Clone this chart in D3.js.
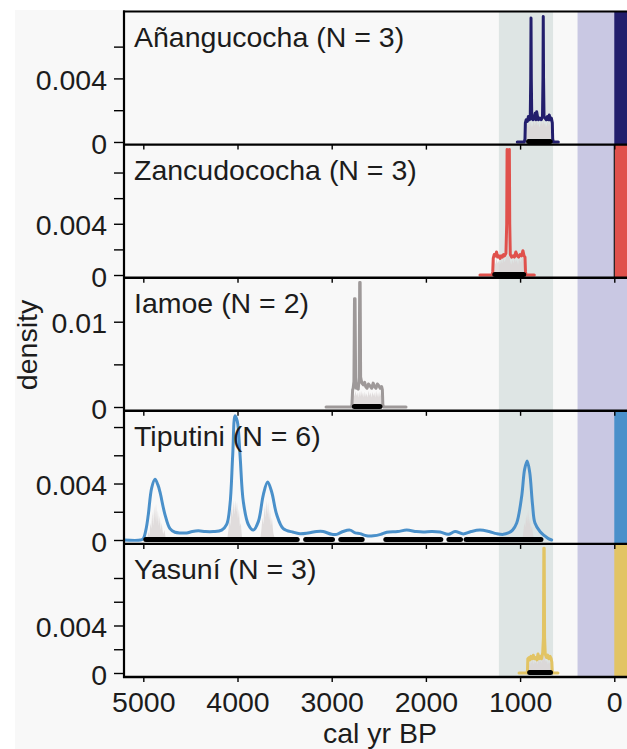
<!DOCTYPE html>
<html>
<head>
<meta charset="utf-8">
<script src="https://cdn.jsdelivr.net/npm/d3@7"></script>
<style>
  body { margin: 0; background: #ffffff; }
  svg text { font-family: "Liberation Sans", Arial, Helvetica, sans-serif; fill: #1c1c1c; }
</style>
</head>
<body>
<svg id="chart" width="627" height="749"></svg>
<script>
// ---- Sites ----
const sites = ["Añangucocha", "Zancudococha", "Iamoe", "Tiputini", "Yasuní"];
const dateCounts = [3, 3, 2, 6, 3];
const siteColors = ["#221e6c", "#e0514c", "#9e9999", "#4a90ca", "#e2c464"];
// whether the recent-period bar (0 cal yr BP onwards) is shown for the site
const recentBar = [true, true, false, true, true];

// ---- Summed density curves: [cal yr BP, density] ----
const anangucochaDensity = [[1030,0],[955,0],[948,0.0002],[944,0.0012],[935,0.0014],[922,0.0013],[912,0.0016],[900,0.0014],[892,0.0016],[887,0.0040],[884,0.0078],[881,0.0040],[876,0.0015],[865,0.0014],[852,0.0015],[840,0.0018],[832,0.0014],[824,0.0019],[815,0.0016],[805,0.0014],[790,0.0015],[775,0.0014],[762,0.0016],[757,0.0040],[754,0.0079],[751,0.0040],[746,0.0016],[735,0.0015],[722,0.0014],[710,0.0016],[698,0.0014],[690,0.0017],[680,0.0014],[668,0.0015],[658,0.0012],[654,0.0002],[648,0],[594,0]];
const zancudocochaDensity = [[1426,0],[1295,0],[1290,0.0003],[1285,0.0013],[1275,0.0016],[1262,0.0015],[1250,0.0018],[1238,0.0014],[1225,0.0015],[1212,0.0013],[1200,0.0015],[1188,0.0014],[1175,0.0016],[1165,0.0015],[1150,0.0017],[1142,0.0040],[1138,0.0098],[1126,0.0097],[1114,0.0098],[1110,0.0040],[1104,0.0016],[1090,0.0014],[1075,0.0015],[1060,0.0014],[1045,0.0018],[1030,0.0015],[1015,0.0014],[1000,0.0016],[985,0.0015],[970,0.0019],[958,0.0015],[948,0.0014],[943,0.0003],[938,0],[849,0]];
const iamoeDensity = [[3060,0],[2790,0],[2785,0.0003],[2778,0.0020],[2772,0.0022],[2764,0.0030],[2758,0.0127],[2752,0.0127],[2746,0.0030],[2740,0.0022],[2730,0.0023],[2718,0.0021],[2708,0.0035],[2703,0.0146],[2698,0.0146],[2693,0.0035],[2680,0.0028],[2665,0.0026],[2650,0.0029],[2640,0.0024],[2625,0.0022],[2610,0.0027],[2595,0.0025],[2575,0.0022],[2560,0.0028],[2545,0.0024],[2530,0.0022],[2515,0.0027],[2500,0.0025],[2485,0.0022],[2470,0.0024],[2462,0.0020],[2457,0.0003],[2450,0],[2211,0]];
const tiputiniDensity = [[5205,0],[5030,0],[5000,0.0001],[4970,0.0008],[4947,0.0018],[4911,0.0037],[4876,0.0043],[4845,0.0039],[4823,0.0034],[4770,0.0018],[4717,0.0008],[4664,0.00055],[4600,0.0005],[4540,0.0005],[4480,0.0006],[4416,0.00065],[4340,0.0006],[4257,0.0006],[4168,0.0007],[4115,0.0011],[4080,0.0025],[4051,0.0060],[4026,0.0088],[4002,0.0084],[3973,0.0060],[3938,0.0027],[3885,0.0011],[3832,0.0007],[3779,0.0013],[3726,0.0032],[3680,0.0041],[3637,0.0034],[3584,0.0018],[3514,0.0008],[3408,0.00055],[3337,0.00045],[3250,0.0005],[3160,0.0006],[3090,0.0006],[3000,0.0004],[2947,0.0004],[2880,0.0006],[2806,0.0007],[2750,0.0005],[2700,0.00045],[2630,0.0003],[2558,0.0003],[2480,0.0004],[2416,0.00055],[2300,0.0006],[2204,0.0007],[2100,0.0006],[2028,0.00057],[1940,0.0006],[1850,0.00057],[1762,0.0004],[1691,0.0006],[1603,0.00043],[1520,0.0006],[1426,0.0007],[1330,0.0006],[1248,0.00045],[1178,0.0004],[1125,0.0005],[1080,0.0007],[1036,0.0012],[983,0.0031],[952,0.0050],[925,0.0056],[898,0.0048],[868,0.0025],[842,0.0012],[789,0.0006],[740,0.0003],[700,0.0001],[665,0]];
const yasuniDensity = [[1011,0],[925,0],[921,0.0003],[918,0.0012],[905,0.0013],[895,0.0011],[885,0.0014],[872,0.0012],[860,0.0015],[848,0.0012],[835,0.0013],[822,0.0011],[810,0.0016],[798,0.0012],[785,0.0014],[772,0.0012],[760,0.0017],[752,0.0030],[748,0.0105],[744,0.0105],[740,0.0030],[733,0.0016],[720,0.0013],[708,0.0015],[695,0.0012],[682,0.0014],[670,0.0012],[663,0.0009],[659,0.0002],[655,0],[598,0]];

// ---- Individual calibrated date probabilities (grey) ----
const anangucochaDates = [[940,0],[935,0.0010],[925,0.0012],[915,0.0009],[905,0.0013],[895,0.0010],[885,0.0013],[875,0.0009],[865,0.0011],[855,0.0014],[845,0.0010],[835,0.0012],[825,0.0016],[815,0.0010],[805,0.0012],[795,0.0009],[785,0.0011],[775,0.0013],[765,0.0010],[755,0.0014],[745,0.0011],[735,0.0012],[725,0.0009],[715,0.0011],[705,0.0014],[695,0.0010],[685,0.0012],[675,0.0009],[665,0.0011],[655,0.0008],[650,0]];
const zancudocochaDates = [[1292,0],[1285,0.0009],[1272,0.0012],[1262,0.0008],[1250,0.0013],[1238,0.0009],[1226,0.0011],[1214,0.0008],[1202,0.0012],[1190,0.0009],[1178,0.0013],[1166,0.0010],[1154,0.0012],[1142,0.0016],[1130,0.0014],[1118,0.0016],[1106,0.0011],[1094,0.0008],[1082,0.0012],[1070,0.0009],[1058,0.0013],[1046,0.0010],[1034,0.0012],[1022,0.0008],[1010,0.0013],[998,0.0010],[986,0.0012],[974,0.0014],[962,0.0010],[950,0.0011],[942,0]];
const iamoeDates = [[2785,0],[2778,0.0014],[2768,0.0018],[2758,0.0012],[2748,0.0019],[2738,0.0013],[2728,0.0017],[2718,0.0011],[2708,0.0018],[2698,0.0012],[2688,0.0019],[2678,0.0013],[2668,0.0017],[2658,0.0011],[2648,0.0018],[2638,0.0012],[2628,0.0016],[2618,0.0011],[2608,0.0019],[2598,0.0013],[2588,0.0017],[2578,0.0011],[2568,0.0018],[2558,0.0013],[2548,0.0017],[2538,0.0011],[2528,0.0019],[2518,0.0012],[2508,0.0017],[2498,0.0011],[2488,0.0018],[2478,0.0013],[2468,0.0016],[2460,0]];
const tiputiniDates = [[4960,0],[4945,0.0006],[4935,0.0003],[4925,0.0012],[4915,0.0008],[4905,0.0020],[4895,0.0010],[4885,0.0024],[4875,0.0014],[4865,0.0026],[4855,0.0012],[4845,0.0021],[4835,0.0010],[4825,0.0017],[4815,0.0007],[4805,0.0012],[4790,0.0004],[4775,0.0007],[4760,0],
  [4110,0],[4095,0.0008],[4085,0.0015],[4075,0.0010],[4065,0.0024],[4055,0.0016],[4045,0.0028],[4035,0.0018],[4025,0.0028],[4015,0.0020],[4005,0.0027],[3995,0.0015],[3985,0.0022],[3975,0.0010],[3965,0.0012],[3950,0],
  [3760,0],[3745,0.0008],[3735,0.0016],[3725,0.0011],[3715,0.0024],[3705,0.0016],[3695,0.0028],[3685,0.0018],[3675,0.0027],[3665,0.0014],[3655,0.0022],[3645,0.0010],[3635,0.0016],[3620,0.0005],[3600,0],
  [975,0],[965,0.0006],[955,0.0012],[945,0.0009],[935,0.0018],[925,0.0012],[915,0.0021],[905,0.0011],[895,0.0016],[885,0.0007],[875,0.0010],[860,0.0003],[850,0]];
const yasuniDates = [[922,0],[915,0.0007],[905,0.0010],[895,0.0006],[885,0.0011],[875,0.0008],[865,0.0012],[855,0.0007],[845,0.0010],[835,0.0008],[825,0.0011],[815,0.0007],[805,0.0012],[795,0.0009],[785,0.0011],[775,0.0008],[765,0.0013],[755,0.0016],[745,0.0018],[735,0.0012],[725,0.0009],[715,0.0011],[705,0.0007],[695,0.0010],[685,0.0008],[675,0.0009],[665,0.0006],[658,0]];

// ---- Highest-density ranges: [start, end] in cal yr BP ----
const anangucochaRanges = [[937, 654]];
const zancudocochaRanges = [[1295, 935]];
const iamoeRanges = [[2786, 2461]];
const tiputiniRanges = [[5000, 3340], [3303, 2965], [2930, 2650], [2452, 1815], [1782, 1606], [1600, 752]];
const yasuniRanges = [[925, 650]];

// ---- Shaded periods (cal yr BP) ----
const periodBands = [[1225, 650], [390, -135]];
const periodColors = ["#dee5e4", "#c9c8e3"];
const recentPeriod = [0, -135];

// ---- Axes ----
const yearDomain = [5205, -135];
const yearTicks = [5000, 4000, 3000, 2000, 1000, 0];
const densityDomains = [[-0.000165, 0.00821], [-0.00021, 0.01018], [-0.000445, 0.01516], [-0.000276, 0.00915], [-0.000337, 0.01087]];
const densityTicks = [[0, 0.002, 0.004, 0.006], [0, 0.002, 0.004, 0.006, 0.008], [0, 0.005, 0.01], [0, 0.002, 0.004, 0.006, 0.008], [0, 0.002, 0.004, 0.006, 0.008]];
const densityLabels = [[0, 0.004], [0, 0.004], [0, 0.01], [0, 0.004], [0, 0.004]];

const densityCurves = [anangucochaDensity, zancudocochaDensity, iamoeDensity, tiputiniDensity, yasuniDensity];
const dateCurves = [anangucochaDates, zancudocochaDates, iamoeDates, tiputiniDates, yasuniDates];
const rangeSets = [anangucochaRanges, zancudocochaRanges, iamoeRanges, tiputiniRanges, yasuniRanges];

// ---- Layout ----
const W = 627, H = 749;
const left = 124, right = 627;
const top0 = 11.5, panelH = 133.1;
const fontFamily = "Liberation Sans, Arial, Helvetica, sans-serif";

const svg = d3.select("#chart");
svg.append("rect").attr("x", 15).attr("y", 10).attr("width", W - 15).attr("height", H - 10).attr("fill", "#f8f8f8");

const x = d3.scaleLinear().domain(yearDomain).range([left, right]);

const panels = sites.map((s, i) => {
  const t = top0 + i * panelH;
  const b = t + panelH;
  const y = d3.scaleLinear().domain(densityDomains[i]).range([b, t]);
  return { site: s, i, t, b, y };
});

const defs = svg.append("defs");
panels.forEach(p => {
  defs.append("clipPath").attr("id", "clip" + p.i)
    .append("rect").attr("x", left).attr("y", p.t).attr("width", right - left).attr("height", panelH);
});

panels.forEach(p => {
  const g = svg.append("g").attr("clip-path", `url(#clip${p.i})`);
  g.append("rect").attr("x", left).attr("y", p.t).attr("width", right - left).attr("height", panelH).attr("fill", "#f8f8f8");

  periodBands.forEach((band, k) => {
    g.append("rect")
      .attr("x", x(band[0])).attr("y", p.t)
      .attr("width", x(band[1]) - x(band[0])).attr("height", panelH)
      .attr("fill", periodColors[k]);
  });

  if (recentBar[p.i]) {
    g.append("rect")
      .attr("x", x(recentPeriod[0])).attr("y", p.t)
      .attr("width", x(recentPeriod[1]) - x(recentPeriod[0])).attr("height", panelH)
      .attr("fill", siteColors[p.i]);
  }
  if (p.site === "Zancudococha") {
    g.append("line").attr("x1", x(0)).attr("x2", x(0)).attr("y1", p.t).attr("y2", p.b)
      .attr("stroke", "#1a1a1a").attr("stroke-width", 1.2);
  }

  // individual calibrated dates
  const area = d3.area().x(d => x(d[0])).y0(p.y(0)).y1(d => p.y(d[1]));
  g.append("path").datum(dateCurves[p.i])
    .attr("d", area).attr("fill", "#d9d4d4").attr("opacity", 0.8);

  // summed density
  const line = d3.line().x(d => x(d[0])).y(d => p.y(d[1]))
    .curve(p.site === "Tiputini" ? d3.curveCatmullRom.alpha(0.5) : d3.curveLinear);
  g.append("path").datum(densityCurves[p.i])
    .attr("d", line).attr("fill", "none")
    .attr("stroke", siteColors[p.i]).attr("stroke-width", 3)
    .attr("stroke-linejoin", "round").attr("stroke-linecap", "round");

  // ranges
  g.selectAll("line.range").data(rangeSets[p.i]).enter().append("line")
    .attr("class", "range")
    .attr("x1", d => x(d[0]) + 2.5).attr("x2", d => x(d[1]) - 2.5)
    .attr("y1", p.y(0) - 0.5).attr("y2", p.y(0) - 0.5)
    .attr("stroke", "#000").attr("stroke-width", 5).attr("stroke-linecap", "round");

  g.append("text")
    .attr("x", 134).attr("y", p.t + 35)
    .attr("font-size", 28.5)
    .text(`${p.site} (N = ${dateCounts[p.i]})`);
});

// axes drawn on top of all panels
panels.forEach(p => {
  const ya = d3.axisLeft(p.y)
    .tickValues(densityTicks[p.i])
    .tickSize(10).tickSizeOuter(0).tickPadding(7)
    .tickFormat(d => densityLabels[p.i].includes(d) ? String(d) : "");
  const gy = svg.append("g").attr("transform", `translate(${left},0)`).call(ya);
  gy.select(".domain").remove();
  gy.selectAll(".tick line").attr("stroke", "#000").attr("stroke-width", 1.4);
  gy.selectAll(".tick text").attr("font-size", 28.5).attr("dy", "0.39em")
    .attr("font-family", fontFamily).attr("fill", "#1c1c1c");

  const last = p.i === panels.length - 1;
  const xa = d3.axisBottom(x).tickValues(yearTicks).tickSize(5).tickSizeOuter(0).tickPadding(10)
    .tickFormat(d => last ? String(d) : "");
  const gx = svg.append("g").attr("transform", `translate(0,${p.b})`).call(xa);
  gx.select(".domain").remove();
  gx.selectAll(".tick line").attr("stroke", "#000").attr("stroke-width", 1.4);
  gx.selectAll(".tick text").attr("font-size", 28.5)
    .attr("font-family", fontFamily).attr("fill", "#1c1c1c");
  svg.append("line").attr("x1", left - 1).attr("x2", right).attr("y1", p.b).attr("y2", p.b)
    .attr("stroke", "#000").attr("stroke-width", 2.4);
});

// frame: top edge and left axis line
svg.append("line").attr("x1", left - 1).attr("x2", right).attr("y1", top0).attr("y2", top0)
  .attr("stroke", "#000").attr("stroke-width", 2);
svg.append("line").attr("x1", left).attr("x2", left).attr("y1", top0 - 1).attr("y2", top0 + 5 * panelH + 1)
  .attr("stroke", "#000").attr("stroke-width", 2.2);

// axis titles
svg.append("text").attr("x", 380).attr("y", 743).attr("text-anchor", "middle")
  .attr("font-size", 28.5).text("cal yr BP");
svg.append("text").attr("transform", "translate(37,345) rotate(-90)").attr("text-anchor", "middle")
  .attr("font-size", 28.5).text("density");
</script>
</body>
</html>
